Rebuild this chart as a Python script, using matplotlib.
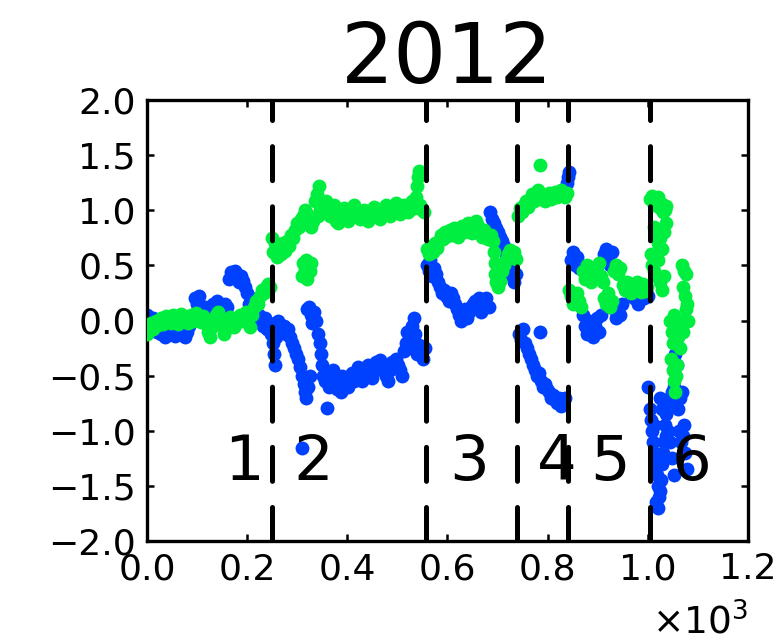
import matplotlib
matplotlib.use("Agg")
import matplotlib.pyplot as plt
from matplotlib.ticker import MultipleLocator, FuncFormatter

plt.rcParams['font.family'] = ['DejaVu Sans']
plt.rcParams['lines.scale_dashes'] = False

title = "2012"
boundaries = [249, 558, 738, 841, 1004]
region_labels = ["1", "2", "3", "4", "5", "6"]
label_x = [194, 332, 643, 819, 925, 1088]
label_y = -1.29
x_scale_exp = 3

blue_pts = [
    # segment before first boundary
    (0, 0.05), (4, 0.0), (8, -0.05), (12, 0.02), (16, -0.08), (20, -0.1), (24, -0.05), (28, -0.12),
    (32, -0.08), (36, -0.15), (40, -0.1), (44, -0.06), (48, -0.12), (52, -0.08), (56, -0.14), (60, -0.1),
    (64, -0.05), (68, -0.12), (72, -0.08), (76, -0.15), (80, -0.1), (84, -0.05), (88, 0.0), (92, 0.05),
    (96, 0.2), (100, 0.15), (104, 0.22), (108, 0.1), (112, 0.05), (116, 0.12), (120, 0.08), (124, 0.02),
    (128, 0.1), (132, 0.15), (136, 0.12), (140, 0.18), (144, 0.1), (148, 0.14), (152, 0.08), (156, 0.15),
    (160, 0.12), (164, 0.38), (168, 0.44), (172, 0.4), (176, 0.45), (180, 0.42), (184, 0.35), (188, 0.4),
    (192, 0.36), (196, 0.3), (200, 0.25), (204, 0.15), (208, 0.2), (212, 0.1), (216, 0.05), (220, 0.0),
    (224, 0.05), (228, 0.0), (232, -0.05), (236, 0.02), (240, -0.08), (244, -0.02), (248, -0.12),
    # region 2
    (250, -0.05), (252, -0.2), (254, -0.3), (256, -0.4), (258, -0.15), (262, 0.0), (266, -0.05),
    (270, -0.1), (274, -0.05), (278, -0.12), (282, -0.08), (286, -0.15), (290, -0.2), (294, -0.25),
    (298, -0.3), (302, -0.35), (306, -0.42), (310, -0.5), (314, -0.58), (316, -0.65), (318, -0.7),
    (322, -0.6), (326, -0.5), (309, -1.16),
    (320, 0.1), (324, 0.12), (327, 0.05), (330, -0.02), (334, 0.08), (337, 0.0), (341, -0.12),
    (345, -0.2), (348, -0.3), (350, -0.4), (352, -0.5), (356, -0.55), (359, -0.79), (360, -0.48),
    (364, -0.6), (368, -0.52), (372, -0.45), (376, -0.55), (380, -0.62), (384, -0.58), (388, -0.65),
    (390, -0.5), (394, -0.58), (398, -0.52), (402, -0.6), (406, -0.55), (410, -0.48), (414, -0.55),
    (418, -0.5), (422, -0.42), (426, -0.48), (430, -0.55), (434, -0.5), (438, -0.45), (442, -0.4),
    (446, -0.48), (450, -0.52), (454, -0.45), (458, -0.38), (462, -0.42), (466, -0.36), (470, -0.45),
    (474, -0.4), (478, -0.5), (482, -0.55), (486, -0.45), (490, -0.38), (494, -0.42), (498, -0.35),
    (502, -0.4), (506, -0.45), (510, -0.5), (514, -0.28), (518, -0.2), (520, -0.1), (522, -0.25),
    (526, -0.18), (530, -0.05), (534, 0.02), (536, -0.12), (540, -0.3), (544, -0.22), (548, -0.3),
    (552, -0.35), (556, -0.25),
    # region 3
    (560, 0.5), (564, 0.45), (566, 0.55), (570, 0.4), (574, 0.48), (578, 0.42), (582, 0.35), (586, 0.3),
    (590, 0.25), (594, 0.28), (598, 0.22), (602, 0.18), (606, 0.25), (610, 0.2), (614, 0.15), (618, 0.1),
    (622, 0.05), (626, 0.0), (630, 0.05), (634, 0.1), (638, 0.02), (642, 0.08), (646, 0.12), (650, 0.15),
    (654, 0.18), (658, 0.12), (662, 0.2), (666, 0.08), (670, 0.15), (676, 0.2), (682, 0.12),
    (684, 0.98), (688, 0.92), (692, 0.88), (696, 0.84), (700, 0.8), (704, 0.76), (708, 0.72),
    (712, 0.68), (716, 0.6), (720, 0.52), (724, 0.45), (728, 0.4), (732, 0.35), (736, 0.42),
    # region 4
    (742, -0.12), (746, -0.18), (750, -0.08), (754, -0.2), (758, -0.25), (762, -0.3), (766, -0.35),
    (770, -0.4), (774, -0.45), (778, -0.5), (782, -0.48), (784, -0.1), (786, -0.55), (790, -0.6),
    (794, -0.58), (798, -0.62), (802, -0.65), (806, -0.7), (810, -0.68), (814, -0.72), (818, -0.75),
    (822, -0.7), (826, -0.78), (830, -0.74), (834, -0.7), (838, 1.25), (840, 1.3), (842, 1.35),
    # region 5
    (846, 0.55), (850, 0.62), (854, 0.5), (858, 0.58), (862, 0.48),
    (870, 0.05), (874, -0.05), (878, -0.12), (882, 0.0), (886, -0.08), (890, -0.15), (894, -0.05),
    (898, 0.02), (902, -0.1), (906, 0.05),
    (912, 0.6), (916, 0.65), (920, 0.55), (924, 0.5), (928, 0.62),
    (932, 0.1), (936, 0.02), (940, 0.12), (944, 0.05), (948, 0.15),
    (960, 0.3), (964, 0.25), (968, 0.32), (972, 0.2), (976, 0.28), (980, 0.15), (984, 0.25),
    (988, 0.3), (992, 0.2), (996, 0.28), (1000, 0.22),
    # region 6
    (1000, -0.6), (1004, -0.8), (1006, -0.9), (1008, -1.0), (1010, -1.1), (1012, -0.95), (1014, -1.2),
    (1016, -1.3), (1018, -1.4), (1020, -1.5), (1022, -1.6), (1024, -1.55), (1026, -1.45), (1028, -1.3),
    (1030, -1.2), (1032, -1.1), (1034, -0.95), (1036, -0.85), (1040, -0.75), (1044, -0.7),
    (1048, -0.65), (1052, -0.6), (1056, -0.72), (1060, -0.8), (1064, -0.7), (1068, -0.65),
    (1050, -0.35), (1054, -0.3), (1058, -0.4), (1062, -1.0), (1066, -1.1), (1070, -1.05),
    (1074, -1.2), (1078, -1.35), (1072, -0.95), (1040, -1.0), (1044, -1.1), (1048, -1.25),
    (1052, -1.4), (1016, -1.65), (1020, -1.7), (1036, -1.05), (1028, -0.8), (1024, -0.7),
]

green_pts = [
    # segment before first boundary
    (0, -0.12), (3, -0.05), (8, -0.02), (12, -0.08), (18, 0.0), (22, -0.04), (28, 0.02), (32, -0.03),
    (38, 0.04), (42, 0.0), (48, -0.02), (52, 0.05), (58, 0.02), (62, -0.03), (68, 0.06), (72, 0.01),
    (78, 0.03), (82, -0.02), (88, 0.05), (92, 0.0), (98, 0.07), (102, 0.02), (108, -0.01), (112, 0.04),
    (118, -0.03), (122, -0.1), (126, -0.15), (130, -0.06), (134, 0.0), (138, 0.05), (142, 0.08),
    (146, 0.02), (150, -0.04), (154, -0.12), (158, -0.08), (162, -0.02), (166, 0.03), (170, 0.0),
    (174, -0.06), (178, -0.02), (182, 0.02), (186, 0.05), (190, 0.0), (194, 0.04), (198, 0.08),
    (202, 0.03), (206, -0.06), (210, 0.05), (214, 0.12), (218, 0.18), (222, 0.15), (226, 0.22),
    (230, 0.28), (234, 0.25), (238, 0.3), (242, 0.33), (246, 0.3),
    # region 2
    (250, 0.75), (252, 0.62), (256, 0.7), (260, 0.58), (264, 0.65), (268, 0.6), (272, 0.7), (276, 0.63),
    (280, 0.72), (284, 0.68), (288, 0.78), (292, 0.75), (296, 0.82), (300, 0.88), (304, 0.85),
    (308, 0.92), (312, 0.95), (316, 1.0), (320, 0.97), (324, 0.92), (328, 0.85), (332, 0.9),
    (336, 1.08), (340, 1.15), (342, 0.95), (344, 1.22), (346, 1.0), (350, 1.05), (354, 0.98),
    (358, 1.08), (362, 1.02), (366, 0.95), (370, 0.98), (374, 1.05), (378, 0.9), (382, 0.88),
    (386, 0.93), (390, 0.97), (394, 1.02), (398, 0.95), (402, 0.9), (406, 0.95), (410, 1.0),
    (414, 1.05), (418, 1.0), (422, 0.95), (426, 0.92), (430, 0.97), (434, 1.0), (438, 0.95),
    (442, 0.9), (446, 0.94), (450, 0.98), (454, 1.03), (458, 1.0), (462, 0.96), (466, 0.92),
    (470, 0.97), (474, 1.02), (478, 1.05), (482, 1.0), (486, 0.95), (490, 0.98), (494, 1.04),
    (498, 1.07), (502, 1.02), (506, 0.97), (510, 1.0), (514, 1.05), (518, 1.02), (522, 0.98),
    (526, 1.03), (530, 1.08), (534, 1.02), (538, 1.12), (540, 1.22), (542, 1.3), (543, 1.36),
    (546, 1.05), (550, 1.0), (554, 0.98),
    (310, 0.4), (315, 0.47), (318, 0.55), (322, 0.5), (325, 0.45), (328, 0.52), (320, 0.38), (312, 0.52),
    # region 3
    (560, 0.65), (564, 0.6), (568, 0.68), (572, 0.62), (576, 0.7), (580, 0.66), (584, 0.72),
    (588, 0.78), (592, 0.74), (596, 0.8), (600, 0.77), (604, 0.82), (608, 0.78), (612, 0.84),
    (616, 0.8), (620, 0.76), (624, 0.82), (628, 0.86), (632, 0.8), (636, 0.84), (640, 0.88),
    (644, 0.83), (648, 0.79), (652, 0.85), (656, 0.9), (660, 0.86), (664, 0.8), (668, 0.76),
    (672, 0.82), (676, 0.78), (680, 0.74), (686, 0.78), (690, 0.72), (692, 0.62), (694, 0.52),
    (695, 0.42), (697, 0.35), (700, 0.3), (704, 0.36), (708, 0.45), (712, 0.5), (716, 0.55),
    (720, 0.6), (724, 0.64), (728, 0.58), (732, 0.62), (736, 0.56),
    # region 4
    (740, 0.95), (744, 1.02), (748, 0.98), (752, 1.05), (756, 1.08), (760, 1.03), (764, 1.1),
    (768, 1.15), (772, 1.08), (776, 1.12), (780, 1.18), (784, 1.41), (786, 1.1), (790, 1.14),
    (794, 1.08), (798, 1.12), (802, 1.16), (806, 1.1), (810, 1.13), (814, 1.17), (818, 1.12),
    (822, 1.15), (826, 1.18), (830, 1.14), (834, 1.12), (838, 1.16),
    # region 5
    (842, 0.28), (846, 0.22), (850, 0.15), (854, 0.2), (858, 0.25), (862, 0.18), (866, 0.12),
    (870, 0.45), (874, 0.38), (878, 0.5), (882, 0.42), (886, 0.35), (890, 0.48), (894, 0.4),
    (898, 0.45), (902, 0.52), (906, 0.4), (910, 0.35),
    (912, 0.2), (916, 0.15), (920, 0.25), (924, 0.12), (928, 0.18),
    (932, 0.45), (936, 0.5), (940, 0.42), (944, 0.48),
    (950, 0.32), (954, 0.28), (958, 0.35), (962, 0.3), (966, 0.25), (970, 0.32), (974, 0.28),
    (978, 0.35), (982, 0.3), (986, 0.26), (990, 0.33), (994, 0.27), (998, 0.3),
    # region 6
    (1004, 1.1), (1008, 1.13), (1012, 1.05), (1016, 1.08), (1020, 1.12), (1024, 1.02), (1028, 1.06),
    (1030, 0.98), (1034, 1.0), (1036, 1.04),
    (1012, 0.85), (1016, 0.78), (1020, 0.7), (1024, 0.75), (1028, 0.65), (1032, 0.8), (1036, 0.88),
    (1006, 0.6), (1008, 0.5), (1012, 0.45), (1016, 0.4), (1020, 0.55), (1024, 0.35), (1028, 0.28),
    (1032, 0.4),
    (1068, 0.5), (1072, 0.45), (1076, 0.42), (1070, 0.3), (1074, 0.22), (1078, 0.15),
    (1044, 0.0), (1048, -0.1), (1050, -0.2), (1052, 0.05), (1056, -0.05), (1060, -0.15),
    (1064, -0.25), (1066, 0.0), (1070, -0.1), (1076, 0.1), (1080, 0.0),
    (1046, -0.35), (1050, -0.45), (1052, -0.55), (1054, -0.65), (1056, -0.5), (1058, -0.4),
]

blue_x = [p[0] for p in blue_pts]
blue_y = [p[1] for p in blue_pts]
green_x = [p[0] for p in green_pts]
green_y = [p[1] for p in green_pts]

fig = plt.figure(figsize=(7.82, 6.44), dpi=100)
ax = fig.add_axes([147 / 782, 1 - 541 / 644, (748 - 147) / 782, (541 - 100) / 644])

ax.plot(blue_x, blue_y, 'o', color='#0040ff', markersize=10, markeredgewidth=0, zorder=2)
ax.plot(green_x, green_y, 'o', color='#00ee40', markersize=10, markeredgewidth=0, zorder=3)

for b in boundaries:
    ax.plot([b, b], [-2, 2], color='black', linewidth=3.6, dashes=(24.5, 18.8),
            solid_capstyle='butt', dash_capstyle='round', zorder=4)

for lab, lx in zip(region_labels, label_x):
    ax.text(lx, label_y, lab, fontsize=45, ha='center', va='center', zorder=5)

ax.set_xlim(0, 1200)
ax.set_ylim(-2, 2)
ax.xaxis.set_major_locator(MultipleLocator(200))
ax.yaxis.set_major_locator(MultipleLocator(0.5))
ax.xaxis.set_major_formatter(FuncFormatter(lambda v, p: "%.1f" % (v / 10 ** x_scale_exp)))
ax.yaxis.set_major_formatter(FuncFormatter(lambda v, p: ("%.1f" % v).replace('-', '\u2212')))

for s in ax.spines.values():
    s.set_linewidth(2.4)
ax.tick_params(direction='in', length=5, width=1.8, top=True, right=True, labelsize=26, pad=8)
ax.set_title(title, fontsize=60, pad=12)

fig.text(748 / 782, 2 / 644, r'$\times10^{%d}$' % x_scale_exp, ha='right', va='bottom', fontsize=27)

fig.savefig("out.png", dpi=100)
